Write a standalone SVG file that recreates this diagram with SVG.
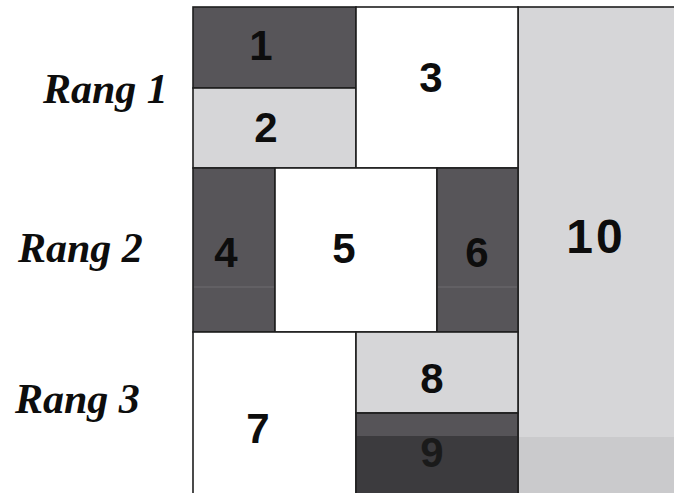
<svg xmlns="http://www.w3.org/2000/svg" width="674" height="493" viewBox="0 0 674 493">
<style>
.b{stroke:#1e1e1e;stroke-width:1.6}
.dk{fill:#575559}
.lt{fill:#d6d6d8}
.wh{fill:#ffffff}
.n{font-family:"Liberation Sans",Arial,sans-serif;font-size:42px;font-weight:bold;fill:#0d0d0d;text-anchor:middle}
.lab{font-family:"Liberation Serif","Times New Roman",serif;font-style:italic;font-weight:bold;font-size:42px;fill:#0d0d0d}
</style>
<rect x="0" y="0" width="674" height="493" fill="#ffffff"/>
<g id="labels">
<text class="lab" x="43" y="103">Rang 1</text>
<text class="lab" x="18" y="262">Rang 2</text>
<text class="lab" x="15" y="413">Rang 3</text>
</g>
<g id="node10">
<rect class="lt b" x="518" y="7" width="160" height="490"/>
<rect x="519" y="437" width="160" height="60" fill="#cacacc"/>
<text class="n" x="596" y="253" style="font-size:48px" letter-spacing="3">10</text>
</g>
<g id="node1">
<rect class="dk b" x="193" y="7" width="163" height="81"/>
<text class="n" x="261" y="60">1</text>
</g>
<g id="node2">
<rect class="lt b" x="193" y="88" width="163" height="80"/>
<text class="n" x="266" y="142">2</text>
</g>
<g id="node3">
<rect class="wh b" x="356" y="7" width="162" height="161"/>
<text class="n" x="431" y="92">3</text>
</g>
<g id="node4">
<rect class="dk b" x="193" y="168" width="82" height="164"/>
<line x1="194" y1="287" x2="274" y2="287" stroke="#6e6c70" stroke-width="1"/>
<text class="n" x="226" y="267">4</text>
</g>
<g id="node5">
<rect class="wh b" x="275" y="168" width="162" height="164"/>
<text class="n" x="344" y="263">5</text>
</g>
<g id="node6">
<rect class="dk b" x="437" y="168" width="81" height="164"/>
<line x1="438" y1="287" x2="517" y2="287" stroke="#6e6c70" stroke-width="1"/>
<text class="n" x="477" y="267">6</text>
</g>
<g id="node7">
<rect class="wh b" x="193" y="332" width="163" height="165"/>
<text class="n" x="258" y="443">7</text>
</g>
<g id="node8">
<rect class="lt b" x="356" y="332" width="162" height="81"/>
<text class="n" x="432" y="393">8</text>
</g>
<g id="node9">
<rect class="b" x="356" y="413" width="162" height="84" fill="#3c3b3e"/>
<rect x="357" y="414" width="160" height="22" fill="#565458"/>
<text class="n" x="432" y="467" style="fill:#1a1a1a">9</text>
</g>
<g id="connectors"></g>
</svg>
